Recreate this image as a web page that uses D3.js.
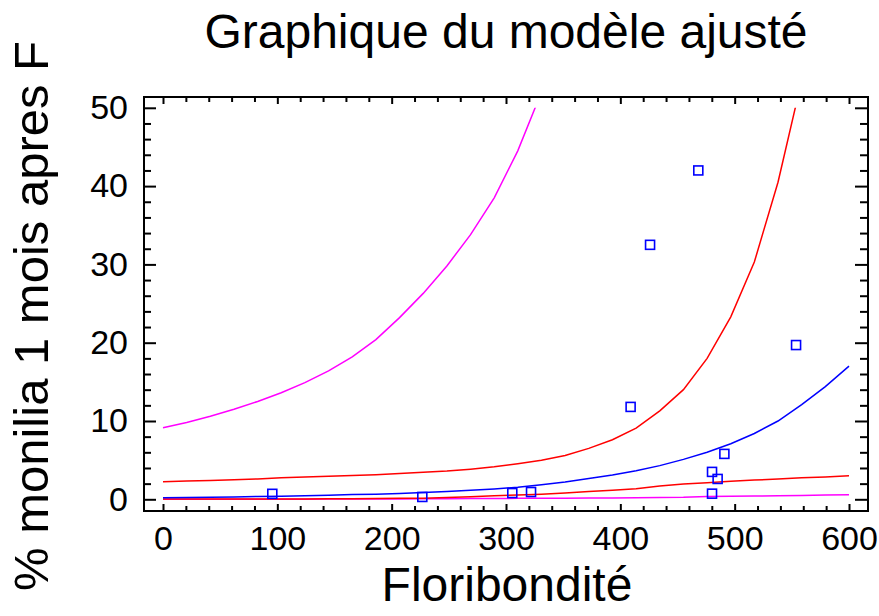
<!DOCTYPE html>
<html>
<head>
<meta charset="utf-8">
<script src="https://cdn.jsdelivr.net/npm/d3@7"></script>
<style>
  html, body { margin: 0; padding: 0; background: #fff; }
  svg { display: block; font-family: "Liberation Sans", Arial, sans-serif; }
</style>
</head>
<body>
<svg id="chart" width="879" height="616"></svg>
<script>
// ---- Data ----
const titleText = "Graphique du modèle ajusté";
const xLabel = "Floribondité";
const yLabel = "% monilia 1 mois apres F";

const xTicks = [0, 100, 200, 300, 400, 500, 600];
const yTicks = [0, 10, 20, 30, 40, 50];

// observed points
const obsX = [95.6, 226.8, 305.5, 321.9, 409, 426, 468.2, 480.2, 485.1, 491, 480.2, 553.7];
const obsY = [0.7, 0.3, 0.8, 0.93, 11.8, 32.5, 42.0, 3.5, 2.6, 5.8, 0.72, 19.7];

// grid of x values where the fitted curves were evaluated
const gridX = [0, 20.7, 41.4, 62.1, 82.8, 103.4, 124.1, 144.8, 165.5, 186.2, 206.9, 227.6, 248.3, 269, 289.7, 310.3, 331, 351.7, 372.4, 393.1, 413.8, 434.5, 455.2, 475.9, 496.6, 517.2, 537.9, 558.6, 579.3, 600];

// fitted model (blue)
const fitY = [0.2, 0.22, 0.26, 0.3, 0.35, 0.4, 0.46, 0.53, 0.6, 0.66, 0.74, 0.86, 1.0, 1.15, 1.32, 1.55, 1.85, 2.2, 2.65, 3.1, 3.65, 4.3, 5.1, 6.0, 7.1, 8.4, 10.0, 12.1, 14.4, 17.0];
// confidence limits (red)
const confUpperY = [2.25, 2.35, 2.4, 2.5, 2.6, 2.75, 2.85, 2.95, 3.05, 3.15, 3.3, 3.45, 3.6, 3.85, 4.15, 4.55, 5.0, 5.6, 6.5, 7.6, 9.1, 11.3, 14.0, 18.0, 23.3, 30.3, 40.5, 53.5, null, null];
const confLowerY = [0.03, 0.03, 0.03, 0.04, 0.04, 0.05, 0.05, 0.06, 0.07, 0.09, 0.12, 0.15, 0.22, 0.32, 0.45, 0.55, 0.65, 0.8, 1.0, 1.15, 1.35, 1.7, 1.95, 2.1, 2.3, 2.45, 2.6, 2.75, 2.85, 3.0];
// prediction limits (magenta)
const predUpperY = [9.15, 9.8, 10.6, 11.5, 12.5, 13.6, 14.9, 16.4, 18.2, 20.4, 23.2, 26.3, 29.8, 33.8, 38.5, 44.5, 52.0, null, null, null, null, null, null, null, null, null, null, null, null, null];
const predLowerY = [0.0, 0.0, 0.0, 0.01, 0.01, 0.02, 0.02, 0.03, 0.03, 0.04, 0.05, 0.06, 0.07, 0.09, 0.1, 0.12, 0.13, 0.15, 0.17, 0.18, 0.2, 0.22, 0.25, 0.35, 0.4, 0.42, 0.45, 0.47, 0.55, 0.58];

// ---- Drawing ----
const svg = d3.select("#chart");
const frame = { left: 144, right: 868, top: 97, bottom: 511 };

const x = d3.scaleLinear().domain([0, 600]).range([163, 849]);
const y = d3.scaleLinear().domain([0, 50]).range([499.3, 107.8]);

const tickFont = 34;

// clip for curves: stop at y = 50
svg.append("defs").append("clipPath").attr("id", "clip")
  .append("rect")
  .attr("x", frame.left).attr("y", y(50))
  .attr("width", frame.right - frame.left)
  .attr("height", frame.bottom - y(50));

const minorX = d3.range(0, 601, 20).filter(v => v % 100 !== 0);
const minorY = d3.range(0, 51, 2).filter(v => v % 10 !== 0);

function styleAxis(g) {
  g.select(".domain").remove();
  g.selectAll(".tick line").attr("stroke", "#000").attr("stroke-width", 2);
  g.selectAll("text").attr("fill", "#000").attr("font-size", tickFont)
    .attr("font-family", "'Liberation Sans', Arial, sans-serif");
}

// bottom axis
svg.append("g").attr("transform", `translate(0,${frame.bottom})`)
  .call(d3.axisBottom(x).tickValues(minorX).tickSize(-5).tickFormat(""))
  .call(styleAxis);
svg.append("g").attr("transform", `translate(0,${frame.bottom})`)
  .call(d3.axisBottom(x).tickValues(xTicks).tickSize(-7).tickPadding(15).tickFormat(d3.format("d")))
  .call(styleAxis);
// top axis
svg.append("g").attr("transform", `translate(0,${frame.top})`)
  .call(d3.axisTop(x).tickValues(minorX).tickSize(-5).tickFormat(""))
  .call(styleAxis);
svg.append("g").attr("transform", `translate(0,${frame.top})`)
  .call(d3.axisTop(x).tickValues(xTicks).tickSize(-7).tickFormat(""))
  .call(styleAxis);
// left axis
svg.append("g").attr("transform", `translate(${frame.left},0)`)
  .call(d3.axisLeft(y).tickValues(minorY).tickSize(-7).tickFormat(""))
  .call(styleAxis);
svg.append("g").attr("transform", `translate(${frame.left},0)`)
  .call(d3.axisLeft(y).tickValues(yTicks).tickSize(-12).tickPadding(16).tickFormat(d3.format("d")))
  .call(styleAxis);
// right axis
svg.append("g").attr("transform", `translate(${frame.right},0)`)
  .call(d3.axisRight(y).tickValues(minorY).tickSize(-8).tickFormat(""))
  .call(styleAxis);
svg.append("g").attr("transform", `translate(${frame.right},0)`)
  .call(d3.axisRight(y).tickValues(yTicks).tickSize(-13).tickFormat(""))
  .call(styleAxis);

// frame
svg.append("rect")
  .attr("x", frame.left).attr("y", frame.top)
  .attr("width", frame.right - frame.left).attr("height", frame.bottom - frame.top)
  .attr("fill", "none").attr("stroke", "#000").attr("stroke-width", 2);

// curves
const curves = [
  { ys: predLowerY, color: "#ff00ff" },
  { ys: confLowerY, color: "#ff0000" },
  { ys: fitY, color: "#0000ff" },
  { ys: confUpperY, color: "#ff0000" },
  { ys: predUpperY, color: "#ff00ff" }
];
const line = d3.line()
  .defined(d => d[1] !== null)
  .x(d => x(d[0])).y(d => y(d[1]));

const curveG = svg.append("g").attr("clip-path", "url(#clip)");
curves.forEach(c => {
  curveG.append("path")
    .datum(gridX.map((gx, i) => [gx, c.ys[i]]))
    .attr("d", line)
    .attr("fill", "none")
    .attr("stroke", c.color)
    .attr("stroke-width", 1.5);
});

// observed points
const sq = 9;
svg.append("g").selectAll("rect")
  .data(obsX.map((ox, i) => [ox, obsY[i]]))
  .join("rect")
  .attr("x", d => x(d[0]) - sq / 2)
  .attr("y", d => y(d[1]) - sq / 2)
  .attr("width", sq).attr("height", sq)
  .attr("fill", "none").attr("stroke", "#0000ff").attr("stroke-width", 1.6);

// title
svg.append("text")
  .attr("x", 506).attr("y", 48)
  .attr("text-anchor", "middle")
  .attr("font-size", 48)
  .attr("fill", "#000")
  .text(titleText);

// x label
svg.append("text")
  .attr("x", 507).attr("y", 601)
  .attr("text-anchor", "middle")
  .attr("font-size", 48)
  .attr("fill", "#000")
  .text(xLabel);

// y label
svg.append("text")
  .attr("transform", "translate(48,316) rotate(-90)")
  .attr("text-anchor", "middle")
  .attr("font-size", 49)
  .attr("fill", "#000")
  .text(yLabel);
</script>
</body>
</html>
